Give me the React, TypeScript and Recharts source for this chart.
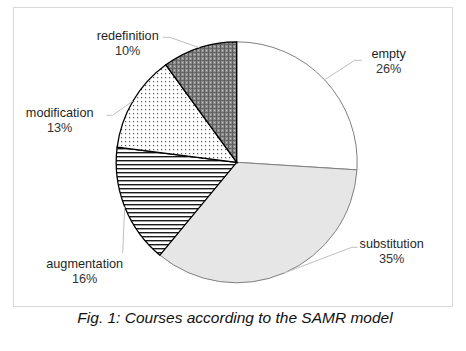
import { PieChart, Pie, Cell } from "recharts";

const CATEGORIES = ["empty", "substitution", "augmentation", "modification", "redefinition"];
const SHARES = [26, 35, 16, 13, 10];

const data = CATEGORIES.map((name, i) => ({ name, value: SHARES[i] }));

const FILLS = ["#ffffff", "#e6e6e6", "url(#hlines)", "url(#dots)", "url(#weave)"];
const STROKES = ["#7f7f7f", "#7f7f7f", "#000000", "#000000", "#000000"];
const STROKE_W = [1, 1, 1.3, 1.3, 1.3];

// label block centre (relative to pie centre) and the elbow of the leader line
const LABEL_LAYOUT = [
  { dx: 152, dy: -101, elbow: [118, -102], end: [125, -102] },
  { dx: 155, dy: 89, elbow: [115, 85], end: [121, 85] },
  { dx: -152, dy: 109, elbow: [-114, 91], end: [-114, 91] },
  { dx: -177, dy: -42, elbow: [-124, -47], end: [-130, -47] },
  { dx: -109, dy: -119, elbow: [-67, -125], end: [-74, -125] },
];

const RAD = Math.PI / 180;
const FONT = "Arial, 'Liberation Sans', sans-serif";

function renderLabel(props: any) {
  const { cx, cy, midAngle, outerRadius, index, percent, name } = props;
  const lay = LABEL_LAYOUT[index];
  const sx = cx + outerRadius * Math.cos(-midAngle * RAD);
  const sy = cy + outerRadius * Math.sin(-midAngle * RAD);
  const ex = cx + lay.elbow[0];
  const ey = cy + lay.elbow[1];
  const tx = cx + lay.end[0];
  const ty = cy + lay.end[1];
  const lx = cx + lay.dx;
  const ly = cy + lay.dy;
  return (
    <g key={`lbl-${index}`}>
      <polyline
        points={`${sx},${sy} ${ex},${ey} ${tx},${ty}`}
        fill="none"
        stroke="#bfbfbf"
        strokeWidth={1}
      />
      <text
        x={lx}
        y={ly - 7}
        textAnchor="middle"
        dominantBaseline="central"
        fontFamily={FONT}
        fontSize={12.7}
        fill="#1f1f1f"
      >
        {name}
      </text>
      <text
        x={lx}
        y={ly + 7.5}
        textAnchor="middle"
        dominantBaseline="central"
        fontFamily={FONT}
        fontSize={12.7}
        fill="#333333"
      >
        {`${Math.round(percent * 100)}%`}
      </text>
    </g>
  );
}

export default function App() {
  return (
    <div style={{ position: "absolute", left: 0, top: 0, width: 466, height: 351, background: "#fff" }}>
      <svg width={0} height={0} style={{ position: "absolute" }}>
        <defs>
          <pattern id="hlines" width={4} height={4} patternUnits="userSpaceOnUse">
            <rect width={4} height={4} fill="#ffffff" />
            <rect y={0} width={4} height={1.4} fill="#1a1a1a" />
          </pattern>
          <pattern id="dots" width={4} height={4} patternUnits="userSpaceOnUse">
            <rect width={4} height={4} fill="#ffffff" />
            <rect x={1} y={1} width={1.2} height={1.2} fill="#555555" />
          </pattern>
          <pattern id="weave" width={4} height={4} patternUnits="userSpaceOnUse">
            <rect width={4} height={4} fill="#8e8e8e" />
            <rect x={0} y={0} width={1} height={4} fill="#5a5a5a" />
            <rect x={0} y={0} width={4} height={1} fill="#666666" />
            <rect x={2} y={2} width={1} height={1} fill="#c0c0c0" />
          </pattern>
        </defs>
      </svg>
      <div
        style={{
          position: "absolute",
          left: 13,
          top: 7,
          width: 440,
          height: 300,
          boxSizing: "border-box",
          border: "1px solid #d9d9d9",
        }}
      />
      <div style={{ position: "absolute", left: 0, top: 0 }}>
        <PieChart width={466} height={351} margin={{ top: 0, right: 0, bottom: 0, left: 0 }}>
          <Pie
            data={data}
            dataKey="value"
            nameKey="name"
            cx={236.7}
            cy={162.3}
            outerRadius={120.5}
            startAngle={90}
            endAngle={-270}
            label={renderLabel}
            labelLine={false}
            isAnimationActive={false}
          >
            {data.map((d, i) => (
              <Cell key={d.name} fill={FILLS[i]} stroke={STROKES[i]} strokeWidth={STROKE_W[i]} />
            ))}
          </Pie>
        </PieChart>
      </div>
      <div
        style={{
          position: "absolute",
          left: 0,
          top: 308,
          width: 470,
          textAlign: "center",
          fontFamily: FONT,
          fontStyle: "italic",
          fontSize: 15.5,
          color: "#111",
          lineHeight: "20px",
        }}
      >
        Fig. 1: Courses according to the SAMR model
      </div>
    </div>
  );
}
